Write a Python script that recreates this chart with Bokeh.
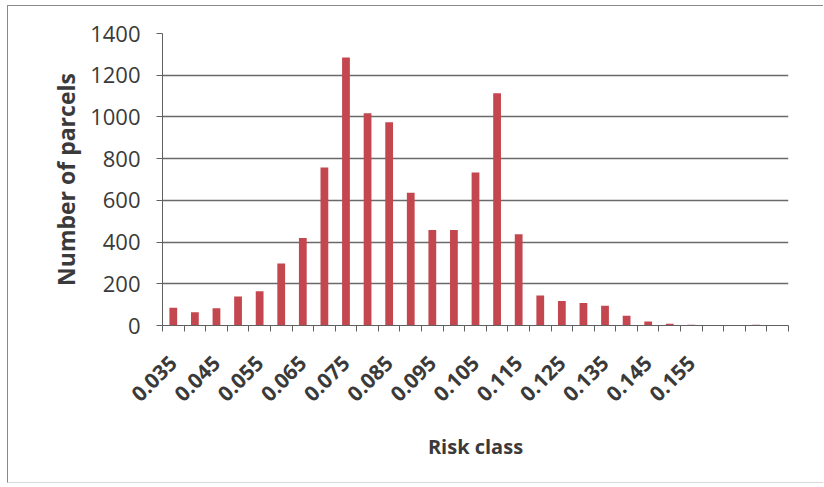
import math
from bokeh.plotting import figure
from bokeh.models import Range1d, FixedTicker, ColumnDataSource
from bokeh.embed import file_html
from bokeh.resources import INLINE

# ---- data ----
categories = ["0.035", "0.040", "0.045", "0.050", "0.055", "0.060", "0.065", "0.070",
              "0.075", "0.080", "0.085", "0.090", "0.095", "0.100", "0.105", "0.110",
              "0.115", "0.120", "0.125", "0.130", "0.135", "0.140", "0.145", "0.150",
              "0.155", "0.160", "0.165", "0.170", "0.175"]
counts = [85, 64, 83, 139, 164, 297, 420, 758, 1285, 1018, 974, 637, 458, 458, 733, 1113,
          437, 144, 117, 108, 95, 47, 19, 8, 3, 2, 2, 3, 1]
shown_labels = ["0.035", "0.045", "0.055", "0.065", "0.075", "0.085", "0.095",
                "0.105", "0.115", "0.125", "0.135", "0.145", "0.155"]
y_ticks = [0, 200, 400, 600, 800, 1000, 1200, 1400]
x_title = "Risk class"
y_title = "Number of parcels"

idx = list(range(len(categories)))
src = ColumnDataSource(dict(x=idx, top=counts, cat=categories))

FONT = "Open Sans"
TXT = "#3a3a3a"
GRID = "#6a6a6a"
AXIS = "#606060"

p = figure(width=816, height=478, output_backend="svg", toolbar_location=None,
           x_range=Range1d(-0.5, len(categories) - 0.5), y_range=Range1d(0, 1400),
           min_border_left=154, min_border_right=36, min_border_top=27, min_border_bottom=159)

p.vbar(x="x", top="top", width=0.36, source=src, fill_color="#C4464E", line_color=None)

# x axis: labels at every other category, tick marks between categories
label_pos = [categories.index(l) for l in shown_labels]
p.xaxis.ticker = FixedTicker(ticks=label_pos,
                             minor_ticks=[i - 0.5 for i in range(len(categories) + 1)])
p.xaxis.major_label_overrides = {i: l for i, l in zip(label_pos, shown_labels)}
p.xaxis.major_label_orientation = math.pi / 4
p.xaxis.major_tick_line_color = None
p.xaxis.minor_tick_line_color = AXIS
p.xaxis.minor_tick_out = 6
p.xaxis.minor_tick_in = 0
p.xaxis.axis_line_color = AXIS
p.xaxis.major_label_text_font = FONT
p.xaxis.major_label_text_font_size = "21px"
p.xaxis.major_label_text_font_style = "bold"
p.xaxis.major_label_text_color = TXT
p.xaxis.major_label_standoff = 28
p.xaxis.axis_label = x_title
p.xaxis.axis_label_text_font = FONT
p.xaxis.axis_label_text_font_size = "20px"
p.xaxis.axis_label_text_font_style = "bold"
p.xaxis.axis_label_text_color = TXT
p.xaxis.axis_label_standoff = 22

# y axis
p.yaxis.ticker = FixedTicker(ticks=y_ticks)
p.yaxis.minor_tick_line_color = None
p.yaxis.major_tick_out = 6
p.yaxis.major_tick_in = 0
p.yaxis.major_tick_line_color = AXIS
p.yaxis.axis_line_color = AXIS
p.yaxis.major_label_text_font = FONT
p.yaxis.major_label_text_font_size = "22px"
p.yaxis.major_label_text_color = TXT
p.yaxis.major_label_standoff = 16
p.yaxis.axis_label = y_title
p.yaxis.axis_label_text_font = FONT
p.yaxis.axis_label_text_font_size = "23px"
p.yaxis.axis_label_text_font_style = "bold"
p.yaxis.axis_label_text_color = TXT
p.yaxis.axis_label_standoff = 5

p.xgrid.grid_line_color = None
p.ygrid.grid_line_color = GRID
p.ygrid.grid_line_width = 1.3
p.outline_line_color = None
p.background_fill_color = "white"
p.border_fill_color = "white"
p.styles = {"margin-left": "7px", "margin-top": "5px",
            "border-left": "1px solid #8a8a8a", "border-top": "1px solid #8a8a8a",
            "border-bottom": "1px solid #d8d8d8"}

open("out.html", "w").write(file_html(p, INLINE))
